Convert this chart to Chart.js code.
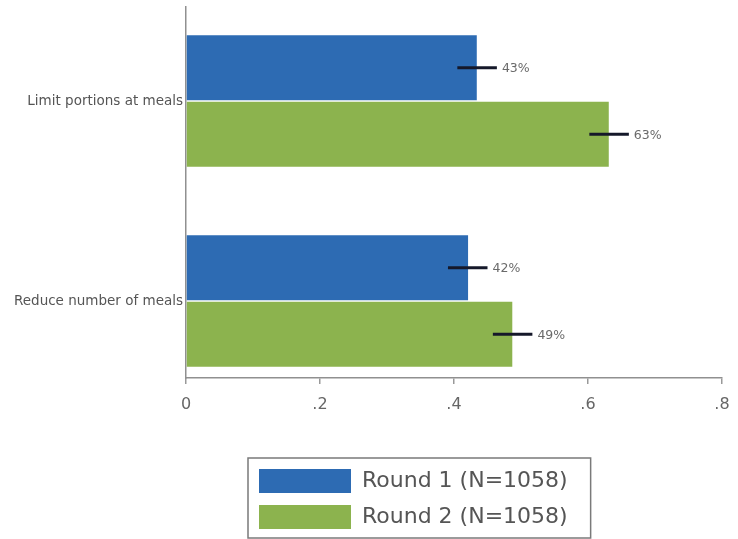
<!DOCTYPE html>
<html>
<head>
<meta charset="utf-8">
<script src="https://cdn.jsdelivr.net/npm/chart.js@4/dist/chart.umd.min.js"></script>
<style>
  html, body { margin: 0; padding: 0; background: #ffffff; }
  #wrap { width: 738px; height: 539px; }
</style>
</head>
<body>
<div id="wrap"><canvas id="c" width="738" height="539"></canvas></div>
<script>
// ---- data ----
const categories = ["Limit portions at meals", "Reduce number of meals"];
const seriesNames = ["Round 1 (N=1058)", "Round 2 (N=1058)"];
const round1 = [0.434, 0.421];
const round2 = [0.631, 0.487];
const round1Low = [0.405, 0.391];
const round1High = [0.464, 0.450];
const round2Low = [0.602, 0.458];
const round2High = [0.661, 0.517];
const xTicks = [0, 0.2, 0.4, 0.6, 0.8];

const colors = ["#2d6bb3", "#8cb34e"];
const values = [round1, round2];
const lows = [round1Low, round2Low];
const highs = [round1High, round2High];

const FONT = "'DejaVu Sans', 'Open Sans', sans-serif";

const datasets = values.map((vals, i) => ({
  label: seriesNames[i],
  data: vals.map((v, j) => ({ x: v, y: j })),
  backgroundColor: colors[i],
  borderWidth: 0,
  categoryPercentage: 0.665,
  barPercentage: 0.98
}));

const errorBars = {
  id: 'errorBars',
  afterDatasetsDraw(chart) {
    const ctx = chart.ctx;
    const xs = chart.scales.x;
    ctx.save();
    values.forEach((vals, i) => {
      const meta = chart.getDatasetMeta(i);
      meta.data.forEach((bar, j) => {
        const y = bar.y;
        const x1 = xs.getPixelForValue(lows[i][j]);
        const x2 = xs.getPixelForValue(highs[i][j]);
        ctx.strokeStyle = '#15182a';
        ctx.lineWidth = 3;
        ctx.beginPath();
        ctx.moveTo(x1, y);
        ctx.lineTo(x2, y);
        ctx.stroke();
        ctx.fillStyle = '#6a6a6a';
        ctx.font = "12.5px " + FONT;
        ctx.textAlign = 'left';
        ctx.textBaseline = 'middle';
        ctx.fillText(Math.round(vals[j] * 100) + '%', x2 + 5, y + 1);
      });
    });
    ctx.restore();
  }
};

// place the legend block and draw its frame
const LEGEND_SWATCH_LEFT = 259;
const legendFrame = {
  id: 'legendFrame',
  afterUpdate(chart) {
    const lg = chart.legend;
    if (!lg || !lg.legendHitBoxes || !lg.legendHitBoxes.length) return;
    const first = Math.min(...lg.legendHitBoxes.map(h => h.left));
    const dx = LEGEND_SWATCH_LEFT - first;
    lg.left += dx; lg.right += dx;
    lg.legendHitBoxes.forEach(h => { h.left += dx; });
  },
  afterDraw(chart) {
    const lg = chart.legend;
    if (!lg || !lg.legendHitBoxes || !lg.legendHitBoxes.length) return;
    let l = Infinity, r = -Infinity, t = Infinity, b = -Infinity;
    lg.legendHitBoxes.forEach(h => {
      l = Math.min(l, h.left); r = Math.max(r, h.left + h.width);
      t = Math.min(t, h.top); b = Math.max(b, h.top + h.height);
    });
    const ctx = chart.ctx;
    ctx.save();
    ctx.strokeStyle = '#7a7a7a';
    ctx.lineWidth = 1.5;
    ctx.strokeRect(l - 11, t - 11, (r + 23) - (l - 11), (b + 9) - (t - 11));
    ctx.restore();
  }
};

new Chart(document.getElementById('c'), {
  type: 'bar',
  data: { datasets },
  options: {
    indexAxis: 'y',
    responsive: false,
    animation: false,
    layout: { padding: { left: 0, right: 16, top: 7, bottom: 0 } },
    plugins: {
      legend: {
        position: 'bottom',
        fullSize: false,
        align: 'start',
        labels: {
          boxWidth: 92,
          boxHeight: 24,
          padding: 12,
          color: '#555555',
          font: { family: FONT, size: 22 }
        }
      },
      tooltip: { enabled: false }
    },
    scales: {
      x: {
        type: 'linear',
        min: 0,
        max: 0.8,
        afterBuildTicks(scale) { scale.ticks = xTicks.map(v => ({ value: v })); },
        afterFit(scale) { scale.height = 79; scale.paddingRight = 0; scale.paddingLeft = 0; },
        ticks: {
          color: '#666666',
          font: { family: FONT, size: 16 },
          padding: 11,
          callback(v) { return v === 0 ? '0' : Number(v).toFixed(1).replace(/^0/, ''); }
        },
        grid: { drawOnChartArea: false, tickLength: 6, color: '#999999', lineWidth: 1.5 },
        border: { color: '#909090', width: 1.5 }
      },
      y: {
        type: 'linear',
        offset: false,
        reverse: true,
        min: -0.47,
        max: 1.385,
        afterBuildTicks(scale) { scale.ticks = categories.map((c, i) => ({ value: i })); },
        afterFit(scale) { scale.width = 186; scale.paddingTop = 0; scale.paddingBottom = 0; },
        ticks: {
          color: '#555555',
          font: { family: FONT, size: 13.5 },
          padding: 3,
          callback(v) { return categories[v] !== undefined ? categories[v] : ''; }
        },
        grid: { display: false, drawTicks: false },
        border: { color: '#909090', width: 1.5 }
      }
    }
  },
  plugins: [errorBars, legendFrame]
});
</script>
</body>
</html>
